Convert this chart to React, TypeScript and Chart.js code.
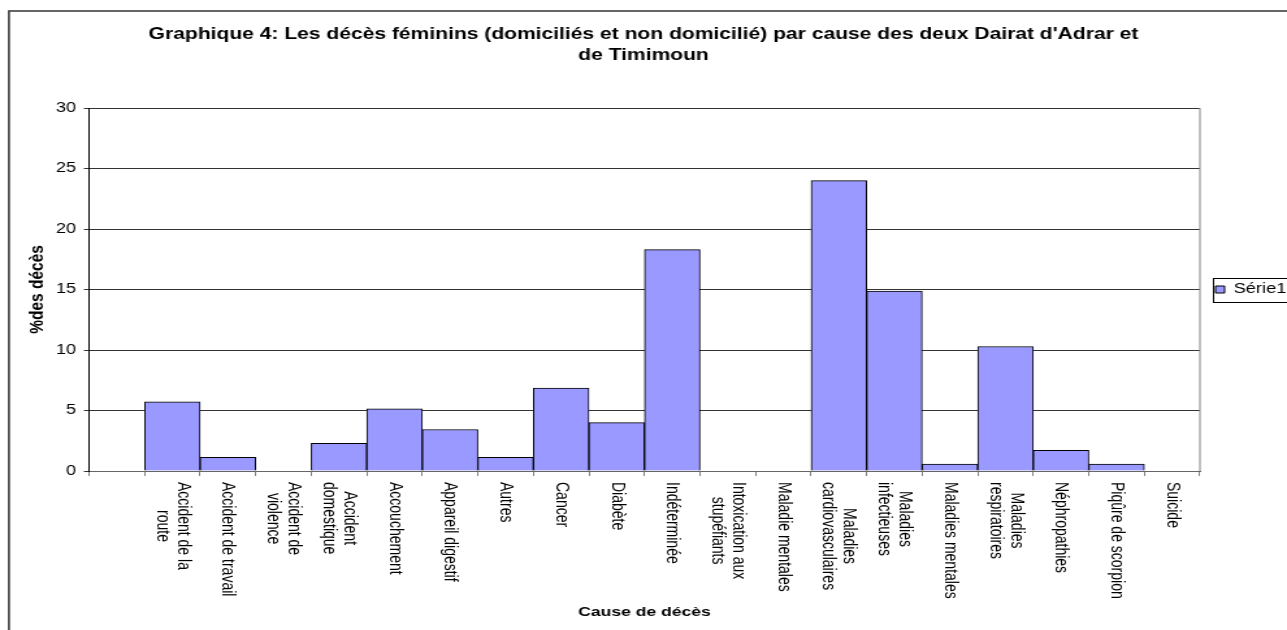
import React, { useEffect, useRef } from 'react';
import { Chart, registerables } from 'chart.js';

Chart.register(...registerables);

const titleLines = [
  "Graphique 4: Les décès féminins (domiciliés et non domicilié) par cause des deux Dairat d'Adrar et",
  'de Timimoun',
];
const xTitle = 'Cause de décès';
const yTitle = '%des décès';
const seriesLabel = 'Série1';

const categories = [
  '',
  'Accident de la\nroute',
  'Accident de travail',
  'Accident de\nviolence',
  'Accident\ndomestique',
  'Accouchement',
  'Appareil digestif',
  'Autres',
  'Cancer',
  'Diabète',
  'Indéterminée',
  'Intoxication aux\nstupéfiants',
  'Maladie mentales',
  'Maladies\ncardiovasculaires',
  'Maladies\ninfectieuses',
  'Maladies mentales',
  'Maladies\nrespiratoires',
  'Néphropathies',
  'Piqûre de scorpion',
  'Suicide',
];

const values = [
  null, 5.71, 1.14, 0, 2.29, 5.14, 3.43, 1.14, 6.86, 4.0, 18.29, 0, 0, 24.0, 14.86, 0.57, 10.29, 1.71, 0.57, 0,
];

const yMin = 0;
const yMax = 30;
const yStep = 5;

const FONT = "'Liberation Sans', Arial, Helvetica, sans-serif";
const SX = 1.3;
const CSS_W = 1287;
const CSS_H = 630;
const W = Math.round(CSS_W / SX);
const H = CSS_H;

const LABEL_SIZE = 14;
const LABEL_LH = 16;

const decorPlugin = {
  id: 'decor',
  beforeDatasetsDraw(chart: any) {
    const { ctx, chartArea: a } = chart;
    ctx.save();
    ctx.strokeStyle = '#808080';
    ctx.lineWidth = 1;
    ctx.beginPath();
    ctx.moveTo(a.right, a.top);
    ctx.lineTo(a.right, a.bottom);
    ctx.stroke();
    ctx.restore();
  },
  afterDraw(chart: any) {
    const { ctx } = chart;
    const xs = chart.scales.x;
    const labels: string[] = chart.data.labels;
    ctx.save();
    ctx.font = `${LABEL_SIZE}px ${FONT}`;
    ctx.fillStyle = '#000';
    labels.forEach((lab, i) => {
      if (!lab) return;
      const lines = lab.split('\n');
      const widths = lines.map((l) => ctx.measureText(l).width);
      const maxW = Math.max(...widths);
      const x = xs.getPixelForValue(i);
      const y = xs.top + 11;
      ctx.save();
      ctx.translate(x, y);
      ctx.rotate(Math.PI / 2);
      ctx.textAlign = 'center';
      ctx.textBaseline = 'middle';
      lines.forEach((l, j) => {
        ctx.fillText(l, maxW / 2, (j - (lines.length - 1) / 2) * LABEL_LH);
      });
      ctx.restore();
    });
    ctx.restore();

    // legend border
    const hb = chart.legend && chart.legend.legendHitBoxes && chart.legend.legendHitBoxes[0];
    if (hb) {
      const cy = hb.top + hb.height / 2;
      ctx.save();
      ctx.strokeStyle = '#000';
      ctx.lineWidth = 1;
      ctx.strokeRect(hb.left - 1.5, Math.round(cy - 12) + 0.5, 200, 24);
      ctx.restore();
    }

    // outer frame
    ctx.save();
    ctx.strokeStyle = '#333';
    ctx.lineWidth = 1.5;
    ctx.strokeRect(6.9, 11, 3000, 3000);
    ctx.restore();
  },
};

export default function App() {
  const ref = useRef<HTMLCanvasElement | null>(null);

  useEffect(() => {
    document.body.style.margin = '0';
    const canvas = ref.current;
    if (!canvas) return;
    const chart = new Chart(canvas, {
      type: 'bar',
      data: {
        labels: categories,
        datasets: [
          {
            label: seriesLabel,
            data: values,
            backgroundColor: '#9999FF',
            borderColor: '#000',
            borderWidth: 1,
            categoryPercentage: 1,
            barPercentage: 1,
          },
        ],
      },
      options: {
        responsive: false,
        devicePixelRatio: 1,
        animation: false,
        events: [],
        layout: { padding: 0 },
        plugins: {
          tooltip: { enabled: false },
          title: {
            display: true,
            text: titleLines,
            color: '#000',
            font: { family: FONT, size: 16.2, weight: 'bold', lineHeight: 21 / 16.2 },
            padding: { top: 24.5, bottom: 41.5 },
          },
          legend: {
            display: true,
            position: 'right',
            fullSize: false,
            maxWidth: 67,
            labels: {
              color: '#000',
              boxWidth: 7,
              boxHeight: 7,
              padding: 12,
              font: { family: FONT, size: 14 },
            },
          },
        },
        scales: {
          x: {
            type: 'category',
            offset: true,
            ticks: { display: false },
            grid: {
              display: true,
              drawOnChartArea: false,
              drawTicks: true,
              tickLength: 5,
              color: '#808080',
              offset: true,
            },
            border: { display: true, color: '#666', width: 1 },
            title: {
              display: true,
              text: xTitle,
              color: '#000',
              font: { family: FONT, size: 13.5, weight: 'bold', lineHeight: 1.2 },
              padding: { top: 0, bottom: 9.9 },
            },
            afterFit: (s: any) => {
              s.height = 159;
            },
          },
          y: {
            min: yMin,
            max: yMax,
            ticks: {
              stepSize: yStep,
              color: '#000',
              padding: 6,
              font: { family: FONT, size: 14 },
            },
            grid: {
              color: '#333',
              lineWidth: 1,
              drawTicks: true,
              tickLength: 4,
            },
            border: { display: true, color: '#000', width: 1 },
            title: {
              display: true,
              text: yTitle,
              color: '#000',
              font: { family: FONT, size: 15.5, weight: 'bold', lineHeight: 1.2 },
              padding: { top: 19.2, bottom: 0 },
            },
            afterFit: (s: any) => {
              s.width = 68.5;
            },
          },
        },
      },
      plugins: [decorPlugin],
    } as any);
    return () => chart.destroy();
  }, []);

  return (
    <div style={{ background: '#fff', width: CSS_W, height: CSS_H, overflow: 'hidden' }}>
      <canvas
        ref={ref}
        width={W}
        height={H}
        style={{ width: CSS_W + 'px', height: CSS_H + 'px', display: 'block' }}
      />
    </div>
  );
}
